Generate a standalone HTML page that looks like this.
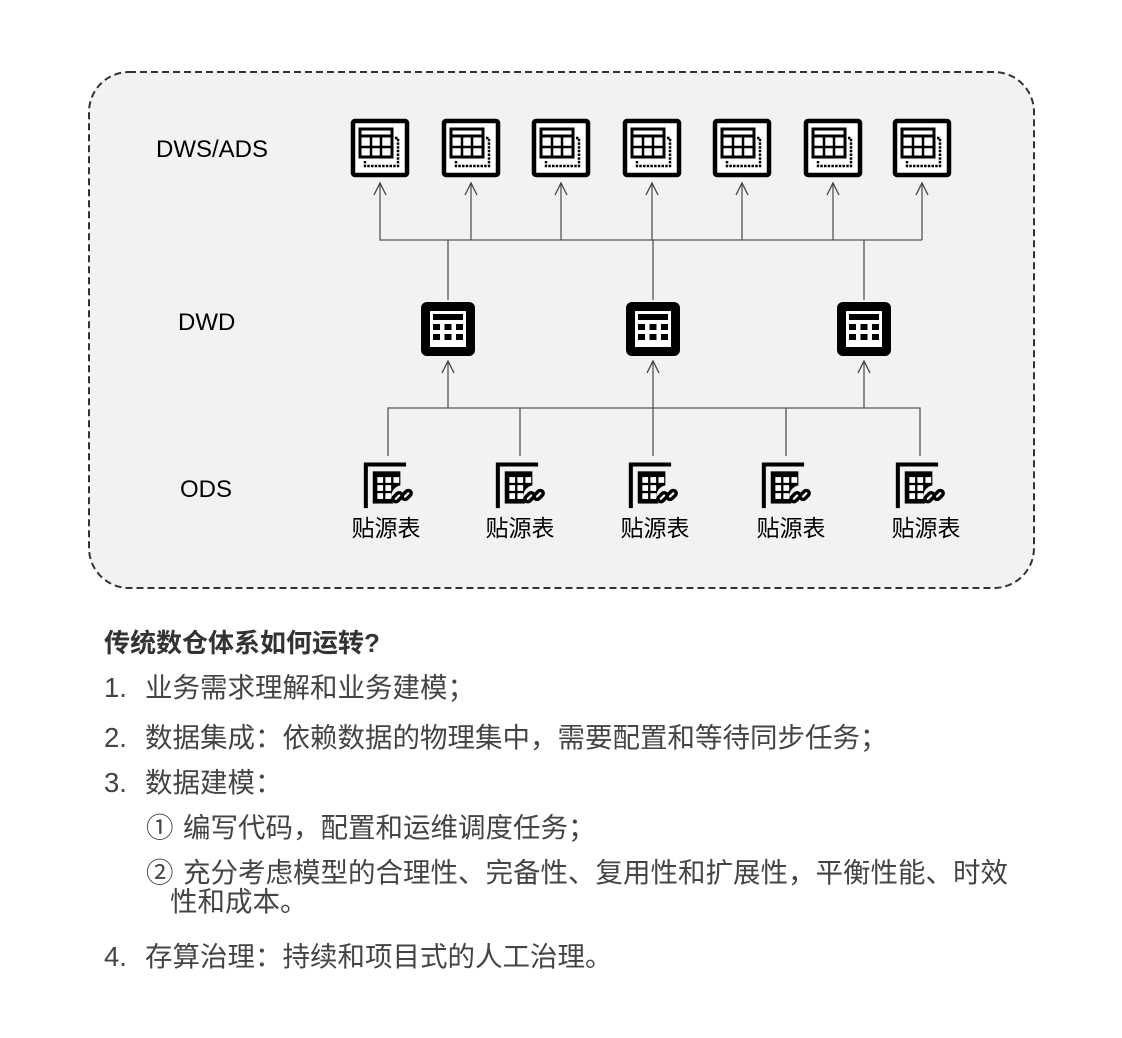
<!DOCTYPE html>
<html><head><meta charset="utf-8"><style>
body{margin:0;width:1122px;height:1038px;background:#fff;position:relative;overflow:hidden;font-family:"Liberation Sans","Noto Sans CJK SC",sans-serif;}
.t{position:absolute;white-space:nowrap;font-size:27.5px;color:#444;line-height:30px;}
</style></head><body>
<svg width="1122" height="1038" style="position:absolute;left:0;top:0" font-family="Liberation Sans, Noto Sans CJK SC, sans-serif">
<defs>
<g id="dws">
 <rect x="-27" y="-27" width="54" height="54" rx="2" fill="#fff" stroke="#000" stroke-width="4.5"/>
 <rect x="-20" y="-19" width="32" height="28" fill="#fff" stroke="#000" stroke-width="3"/>
 <line x1="-20" y1="-12" x2="12" y2="-12" stroke="#000" stroke-width="3"/>
 <line x1="-20" y1="-1" x2="12" y2="-1" stroke="#000" stroke-width="2.5"/>
 <line x1="-9" y1="-12" x2="-9" y2="9" stroke="#000" stroke-width="2.5"/>
 <line x1="1" y1="-12" x2="1" y2="9" stroke="#000" stroke-width="2.5"/>
 <path d="M15,-10 H18 V18 H-15 V13" fill="none" stroke="#000" stroke-width="2.5" stroke-dasharray="2.5,1.2"/>
</g>
<g id="dwd">
 <rect x="-27" y="-27" width="54" height="54" rx="6" fill="#000"/>
 <rect x="-18" y="-18" width="36" height="36" fill="#fff"/>
 <rect x="-15" y="-15" width="30" height="6" fill="#000"/>
 <rect x="-15" y="-5" width="7" height="6" fill="#000"/><rect x="-3.5" y="-5" width="7" height="6" fill="#000"/><rect x="8" y="-5" width="7" height="6" fill="#000"/>
 <rect x="-15" y="5" width="7" height="6" fill="#000"/><rect x="-3.5" y="5" width="7" height="6" fill="#000"/><rect x="8" y="5" width="7" height="6" fill="#000"/>
</g>
<g id="ods">
 <path d="M-21,21 V-17 H14" fill="none" stroke="#000" stroke-width="3.5"/>
 <rect x="-15" y="-11" width="24" height="28" fill="#000"/>
 <rect x="-11" y="-6" width="5" height="5" fill="#fff"/><rect x="-4" y="-6" width="5" height="5" fill="#fff"/><rect x="3" y="-6" width="5" height="5" fill="#fff"/>
 <rect x="-11" y="1" width="5" height="5" fill="#fff"/><rect x="-4" y="1" width="5" height="5" fill="#fff"/>
 <rect x="-11" y="8" width="5" height="5" fill="#fff"/><rect x="-4" y="8" width="5" height="5" fill="#fff"/>
 <circle cx="11" cy="11" r="10" fill="#f2f2f2"/>
 <rect x="2" y="9" width="9" height="5" rx="2.5" transform="rotate(-45 6.5 11.5)" fill="none" stroke="#000" stroke-width="3"/>
 <rect x="10" y="7" width="9" height="5" rx="2.5" transform="rotate(-45 14.5 9.5)" fill="none" stroke="#000" stroke-width="3"/>
</g>
<path id="ar" d="M-6,12 L0,0 L6,12" fill="none" stroke="#444" stroke-width="1.3"/>
</defs>
<rect x="89" y="72" width="945" height="516" rx="40" fill="#f2f2f2" stroke="#333" stroke-width="2" stroke-dasharray="7,4"/>
<g stroke="#555" stroke-width="1.3" fill="none">
 <path d="M380,183 V240 H922 M471,183 V240 M561,183 V240 M652,183 V240 M742,183 V240 M833,183 V240 M922,183 V240"/>
 <path d="M448,240 V300 M653,240 V300 M864,240 V300"/>
 <path d="M448,362 V408 M653,362 V456 M864,362 V408 M388,456 V408 H920 V456 M520,408 V456 M786,408 V456"/>
</g>
<g>
<use href="#ar" x="380" y="183"/><use href="#ar" x="471" y="183"/><use href="#ar" x="561" y="183"/><use href="#ar" x="652" y="183"/><use href="#ar" x="742" y="183"/><use href="#ar" x="833" y="183"/><use href="#ar" x="922" y="183"/>
<use href="#ar" x="448" y="361"/><use href="#ar" x="653" y="361"/><use href="#ar" x="864" y="361"/>
</g>
<use href="#dws" x="380" y="148"/><use href="#dws" x="471" y="148"/><use href="#dws" x="561" y="148"/><use href="#dws" x="652" y="148"/><use href="#dws" x="742" y="148"/><use href="#dws" x="833" y="148"/><use href="#dws" x="922" y="148"/>
<use href="#dwd" x="448" y="329"/><use href="#dwd" x="653" y="329"/><use href="#dwd" x="864" y="329"/>
<g transform="translate(390,484) scale(1.15)"><use href="#ods"/></g>
<g transform="translate(522,484) scale(1.15)"><use href="#ods"/></g>
<g transform="translate(655,484) scale(1.15)"><use href="#ods"/></g>
<g transform="translate(788,484) scale(1.15)"><use href="#ods"/></g>
<g transform="translate(922,484) scale(1.15)"><use href="#ods"/></g>
<g font-size="24" fill="#000">
 <text x="156" y="157">DWS/ADS</text>
 <text x="178" y="330">DWD</text>
 <text x="180" y="497">ODS</text>
</g>
<g font-size="23" fill="#000" text-anchor="middle">
 <text x="386" y="536">贴源表</text><text x="520" y="536">贴源表</text><text x="655" y="536">贴源表</text><text x="791" y="536">贴源表</text><text x="926" y="536">贴源表</text>
</g>
</svg>
<div class="t" style="left:104px;top:628px;font-weight:bold;color:#333;font-size:26px;">传统数仓体系如何运转?</div>
<div class="t" style="left:104px;top:673px;">1.</div><div class="t" style="left:145px;top:673px;">业务需求理解和业务建模；</div>
<div class="t" style="left:104px;top:723px;">2.</div><div class="t" style="left:145px;top:723px;">数据集成：依赖数据的物理集中，需要配置和等待同步任务；</div>
<div class="t" style="left:104px;top:768px;">3.</div><div class="t" style="left:145px;top:768px;">数据建模：</div>
<div class="t" style="left:146px;top:813px;">①</div><div class="t" style="left:183px;top:813px;">编写代码，配置和运维调度任务；</div>
<div class="t" style="left:146px;top:858px;">②</div><div class="t" style="left:183px;top:858px;">充分考虑模型的合理性、完备性、复用性和扩展性，平衡性能、时效</div>
<div class="t" style="left:170px;top:887px;">性和成本。</div>
<div class="t" style="left:104px;top:942px;">4.</div><div class="t" style="left:145px;top:942px;">存算治理：持续和项目式的人工治理。</div>
</body></html>
